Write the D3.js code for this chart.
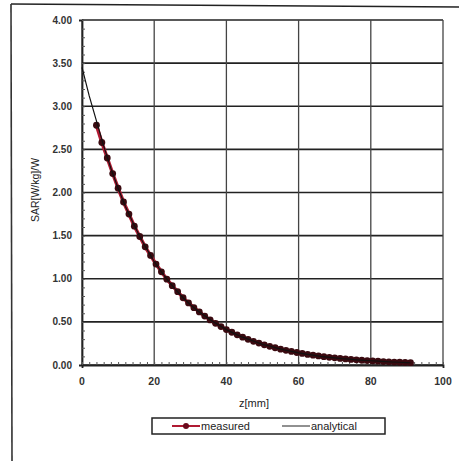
<!DOCTYPE html>
<html>
<head>
<meta charset="utf-8">
<script src="https://cdn.jsdelivr.net/npm/d3@7"></script>
<style>
  body { margin: 0; background: #fff; }
  svg { font-family: Arial, "Liberation Sans", sans-serif; }
</style>
</head>
<body>
<svg id="chart" width="459" height="461"></svg>
<script>
const width = 459;
const height = 461;

// analytical curve, z in mm
const zAnalytical = [0, 2, 4, 6, 8, 10, 12, 14, 16, 18, 20, 22, 24, 26, 28, 30, 32, 34, 36, 38, 40,
  42, 44, 46, 48, 50, 52, 54, 56, 58, 60, 62, 64, 66, 68, 70, 72, 74, 76, 78, 80, 82, 84, 86, 88, 90, 91];
const sarAnalytical = [3.45, 3.12, 2.83, 2.54, 2.28, 2.05, 1.84, 1.66, 1.49, 1.34, 1.20, 1.08, 0.97, 0.87, 0.78, 0.70,
  0.63, 0.57, 0.51, 0.46, 0.41, 0.37, 0.33, 0.30, 0.27, 0.24, 0.22, 0.195, 0.175, 0.157, 0.14, 0.127, 0.114,
  0.10, 0.092, 0.083, 0.074, 0.067, 0.06, 0.054, 0.049, 0.044, 0.039, 0.035, 0.032, 0.028, 0.026];

// measured points
const zMeasured = [4, 5.5, 7, 8.5, 10, 11.5, 13, 14.5, 16, 17.5, 19, 20.5, 22, 23.5, 25, 26.5, 28, 29.5, 31, 32.5,
  34, 35.5, 37, 38.5, 40, 41.5, 43, 44.5, 46, 47.5, 49, 50.5, 52, 53.5, 55, 56.5, 58, 59.5, 61, 62.5, 64, 65.5,
  67, 68.5, 70, 71.5, 73, 74.5, 76, 77.5, 79, 80.5, 82, 83.5, 85, 86.5, 88, 89.5, 91];
const sarMeasured = [2.78, 2.58, 2.40, 2.22, 2.05, 1.89, 1.75, 1.61, 1.49, 1.37, 1.27, 1.17, 1.08, 0.995, 0.92, 0.85,
  0.78, 0.72, 0.665, 0.615, 0.567, 0.523, 0.483, 0.446, 0.411, 0.38, 0.35, 0.323, 0.298, 0.275, 0.254, 0.234,
  0.216, 0.20, 0.184, 0.17, 0.157, 0.145, 0.134, 0.123, 0.114, 0.105, 0.097, 0.089, 0.083, 0.076, 0.070, 0.065,
  0.060, 0.055, 0.051, 0.047, 0.044, 0.040, 0.037, 0.034, 0.032, 0.029, 0.027];

const xTicks = [0, 20, 40, 60, 80, 100];
const yTicks = [0, 0.5, 1, 1.5, 2, 2.5, 3, 3.5, 4];
const legendLabels = ["measured", "analytical"];

const margin = { left: 82, right: 16, top: 20, bottom: 96 };

const svg = d3.select("#chart");

// scanned page frame
svg.append("line").attr("x1", 11).attr("y1", 4).attr("x2", width).attr("y2", 7)
  .attr("stroke", "#222").attr("stroke-width", 1.6);
svg.append("line").attr("x1", 11).attr("y1", 4).attr("x2", 12).attr("y2", height)
  .attr("stroke", "#333").attr("stroke-width", 1.6);

const x = d3.scaleLinear().domain([0, 100]).range([margin.left, width - margin.right]);
const y = d3.scaleLinear().domain([0, 4]).range([height - margin.bottom, margin.top]);

const g = svg.append("g");

// grid
g.selectAll(".hgrid").data(yTicks).enter().append("line")
  .attr("x1", x(0)).attr("x2", x(100))
  .attr("y1", d => y(d)).attr("y2", d => y(d))
  .attr("stroke", "#222").attr("stroke-width", 1.6);
g.selectAll(".vgrid").data(xTicks).enter().append("line")
  .attr("x1", d => x(d)).attr("x2", d => x(d))
  .attr("y1", y(0)).attr("y2", y(4))
  .attr("stroke", "#444").attr("stroke-width", 1.3);

// axes with minor ticks
const yAxis = d3.axisLeft(y).ticks(40).tickSize(3).tickFormat("");
g.append("g").attr("transform", `translate(${x(0)},0)`).call(yAxis)
  .call(a => a.select(".domain").attr("stroke", "#222").attr("stroke-width", 1.8))
  .call(a => a.selectAll(".tick line").attr("stroke", "#555").attr("transform", "translate(3,0)"));
const xAxis = d3.axisBottom(x).ticks(50).tickSize(3).tickFormat("");
g.append("g").attr("transform", `translate(0,${y(0)})`).call(xAxis)
  .call(a => a.select(".domain").attr("stroke", "#222").attr("stroke-width", 1.8))
  .call(a => a.selectAll(".tick line").attr("stroke", "#555").attr("transform", "translate(0,-3)"));

// tick labels
g.selectAll(".ylab").data(yTicks).enter().append("text")
  .attr("x", x(0) - 10).attr("y", d => y(d) + 3.5)
  .attr("text-anchor", "end").attr("font-size", 10).attr("font-weight", "bold").attr("fill", "#333")
  .text(d => d3.format(".2f")(d));
g.selectAll(".xlab").data(xTicks).enter().append("text")
  .attr("x", d => x(d)).attr("y", y(0) + 20)
  .attr("text-anchor", "middle").attr("font-size", 10.5).attr("font-weight", "bold").attr("fill", "#333")
  .text(d => d);

// axis titles
svg.append("text").attr("transform", "translate(39,190) rotate(-90)")
  .attr("text-anchor", "middle").attr("font-size", 10.5).attr("fill", "#222")
  .text("SAR[W/kg]/W");
svg.append("text").attr("x", 254).attr("y", 407)
  .attr("text-anchor", "middle").attr("font-size", 11).attr("fill", "#222")
  .text("z[mm]");

// measured series
const measured = zMeasured.map((z, i) => [z, sarMeasured[i]]);
const analytical = zAnalytical.map((z, i) => [z, sarAnalytical[i]]);
const line = d3.line().x(d => x(d[0])).y(d => y(d[1]));

g.append("path").datum(measured).attr("d", line)
  .attr("fill", "none").attr("stroke", "#b01a32").attr("stroke-width", 3.5);
g.selectAll(".pt").data(measured).enter().append("circle")
  .attr("cx", d => x(d[0])).attr("cy", d => y(d[1])).attr("r", 3.4)
  .attr("fill", "#3a0a10");
g.append("path").datum(analytical).attr("d", line)
  .attr("fill", "none").attr("stroke", "#111").attr("stroke-width", 1.2);

// legend
const lg = svg.append("g").attr("transform", "translate(152,418)");
lg.append("rect").attr("width", 233).attr("height", 16)
  .attr("fill", "#fff").attr("stroke", "#222").attr("stroke-width", 1.5);
lg.append("line").attr("x1", 20).attr("x2", 48).attr("y1", 8).attr("y2", 8)
  .attr("stroke", "#b01a32").attr("stroke-width", 2);
lg.append("circle").attr("cx", 34).attr("cy", 8).attr("r", 3).attr("fill", "#6a0a1c");
lg.append("text").attr("x", 49).attr("y", 12).attr("font-size", 11).attr("fill", "#222").text(legendLabels[0]);
lg.append("line").attr("x1", 130).attr("x2", 158).attr("y1", 8).attr("y2", 8)
  .attr("stroke", "#222").attr("stroke-width", 1);
lg.append("text").attr("x", 159).attr("y", 12).attr("font-size", 11).attr("fill", "#222").text(legendLabels[1]);
</script>
</body>
</html>
